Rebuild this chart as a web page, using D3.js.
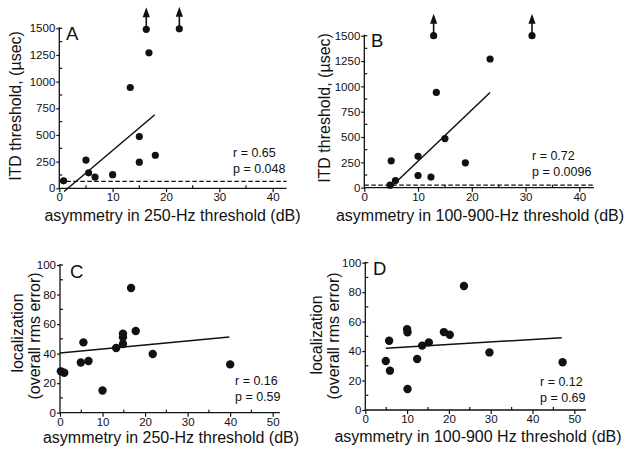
<!DOCTYPE html>
<html><head><meta charset="utf-8">
<script src="https://cdn.jsdelivr.net/npm/d3@7"></script>
<style>body{margin:0;background:#fff}svg{display:block}text{font-family:"Liberation Sans",Arial,sans-serif;fill:#111}</style>
</head><body>
<script>
// ---- data ----
const aX = [0.8, 5, 5.5, 6.7, 10, 13.3, 15, 15, 18, 16.8, 16.3, 22.5];
const aY = [70, 265, 145, 105, 128, 945, 485, 245, 310, 1270, 1490, 1495];
const aUp = [0, 0, 0, 0, 0, 0, 0, 0, 0, 0, 1, 1];
const aFitX = [0.9, 17.9], aFitY = [-30, 690];
const aDash = 65;
const aStats = ["r = 0.65", "p = 0.048"];

const bX = [5, 4.8, 5.8, 10, 10, 12.4, 13.4, 15, 18.8, 23.4, 12.9, 31.2];
const bY = [265, 25, 70, 310, 120, 105, 940, 485, 245, 1270, 1500, 1500];
const bUp = [0, 0, 0, 0, 0, 0, 0, 0, 0, 0, 1, 1];
const bFitX = [5.2, 23.4], bFitY = [20, 940];
const bDash = 25;
const bStats = ["r = 0.72", "p = 0.0096"];

const cX = [0.2, 1.0, 4.9, 5.5, 6.7, 10, 13.2, 14.8, 14.8, 14.8, 16.7, 17.8, 21.8, 40];
const cY = [28, 27, 34, 47.6, 35, 15, 43.8, 46.5, 51, 53.5, 84.4, 55.3, 39.7, 32.7];
const cFitX = [0, 39.8], cFitY = [40.5, 51.3];
const cStats = ["r = 0.16", "p = 0.59"];

const dX = [4.9, 5.7, 5.9, 10.1, 10, 10.1, 12.4, 13.6, 15.2, 18.8, 20.2, 23.6, 29.7, 47.2];
const dY = [33.3, 47, 26.7, 14.3, 54.8, 52.7, 34.6, 43.7, 45.9, 52.9, 51.1, 84.2, 39.1, 32.4];
const dFitX = [4.9, 47], dFitY = [42, 49];
const dStats = ["r = 0.12", "p = 0.69"];

const itdTicks = [0, 250, 500, 750, 1000, 1250, 1500];
const locTicks = [0, 20, 40, 60, 80, 100];
const x40Ticks = [0, 10, 20, 30, 40];
const x50Ticks = [0, 10, 20, 30, 40, 50];

const svg = d3.select("body").append("svg").attr("width", 632).attr("height", 454);

function panel(p) {
  const g = svg.append("g");
  const x = d3.scaleLinear().domain([0, p.xTicks[p.xTicks.length - 1]]).range(p.xr);
  const y = d3.scaleLinear().domain([0, p.yTicks[p.yTicks.length - 1]]).range(p.yr);
  const xEnd = x(p.xMax);
  const xa = d3.axisBottom(x).tickValues(p.xTicks).tickSize(4).tickPadding(1).tickFormat(d3.format("d"));
  const ya = d3.axisLeft(y).tickValues(p.yTicks).tickSize(3).tickPadding(1).tickFormat(d3.format("d"));
  const gx = g.append("g").attr("transform", `translate(0,${p.yr[0]})`).call(xa);
  const gy = g.append("g").attr("transform", `translate(${p.xr[0]},0)`).call(ya);
  gx.select(".domain").remove(); gy.select(".domain").remove();
  [gx, gy].forEach(a => {
    a.selectAll("line").attr("stroke", "#111").attr("stroke-width", 1.2);
    a.selectAll("text").style("font-size", "11.5px").style("font-family", '"Liberation Sans",Arial,sans-serif').attr("fill", "#111");
  });
  g.append("line").attr("x1", p.xr[0]).attr("x2", xEnd).attr("y1", p.yr[0]).attr("y2", p.yr[0]).attr("stroke", "#111").attr("stroke-width", 1.3);
  g.append("line").attr("x1", p.xr[0]).attr("x2", p.xr[0]).attr("y1", p.yr[0]).attr("y2", p.yr[1] - 1).attr("stroke", "#111").attr("stroke-width", 1.3);
  const xStep = p.xTicks[1] - p.xTicks[0], yStep = p.yTicks[1] - p.yTicks[0];
  const xMinor = d3.range(xStep / 2, p.xMax, xStep);
  const yMinor = d3.range(yStep / 2, p.yTicks[p.yTicks.length - 1], yStep).concat([p.yTicks[p.yTicks.length - 1]]);
  g.selectAll(null).data(xMinor).join("line").attr("x1", d => x(d)).attr("x2", d => x(d)).attr("y1", p.yr[0]).attr("y2", p.yr[0] - 3).attr("stroke", "#111").attr("stroke-width", 1.2);
  g.selectAll(null).data(yMinor).join("line").attr("y1", d => y(d)).attr("y2", d => y(d)).attr("x1", p.xr[0]).attr("x2", p.xr[0] + 3).attr("stroke", "#111").attr("stroke-width", 1.2);
  if (p.dash != null) {
    g.append("line").attr("x1", p.xr[0]).attr("x2", xEnd).attr("y1", y(p.dash)).attr("y2", y(p.dash))
      .attr("stroke", "#111").attr("stroke-width", 1.4).attr("stroke-dasharray", "4.5,2.5");
  }
  g.append("line").attr("x1", x(p.fx[0])).attr("x2", x(p.fx[1])).attr("y1", y(p.fy[0])).attr("y2", y(p.fy[1]))
    .attr("stroke", "#111").attr("stroke-width", 1.5);
  const pts = p.xs.map((v, i) => ({ x: v, y: p.ys[i], up: p.up ? p.up[i] : 0 }));
  g.selectAll(null).data(pts).join("circle").attr("cx", d => x(d.x)).attr("cy", d => y(d.y)).attr("r", p.r).attr("fill", "#111");
  const ups = pts.filter(d => d.up);
  g.selectAll(null).data(ups).join("line").attr("x1", d => x(d.x)).attr("x2", d => x(d.x)).attr("y1", d => y(d.y)).attr("y2", d => y(d.y) - 13).attr("stroke", "#111").attr("stroke-width", 1.6);
  g.selectAll(null).data(ups).join("path").attr("d", d => { const cx = x(d.x), cy = y(d.y); return `M${cx},${cy - 22}L${cx + 3.6},${cy - 12}L${cx - 3.6},${cy - 12}Z`; }).attr("fill", "#111");
  g.append("text").attr("x", p.letterPos[0]).attr("y", p.letterPos[1]).text(p.letter).style("font-size", "18.5px");
  g.selectAll(null).data(p.stats).join("text").attr("x", p.statPos[0]).attr("y", (d, i) => p.statPos[1] + i * 15.5).text(d => d).style("font-size", "12.5px");
  g.append("text").attr("x", p.xlPos[0]).attr("y", p.xlPos[1]).attr("text-anchor", "middle").text(p.xlabel).style("font-size", "16px");
  p.ylabel.forEach((t, i) => {
    g.append("text").attr("transform", `translate(${p.ylPos[i][0]},${p.ylPos[i][1]}) rotate(-90)`).attr("text-anchor", "middle").text(t).style("font-size", "16px");
  });
}

panel({ xs: aX, ys: aY, up: aUp, fx: aFitX, fy: aFitY, dash: aDash, stats: aStats, letter: "A",
  xTicks: x40Ticks, yTicks: itdTicks, xMax: 42.6, xr: [59.3, 272.7], yr: [188.3, 28.3], r: 3.6,
  letterPos: [66, 40], statPos: [233, 157], xlPos: [172.5, 221], xlabel: "asymmetry in 250-Hz threshold (dB)",
  ylabel: ["ITD threshold, (µsec)"], ylPos: [[21, 106]] });
panel({ xs: bX, ys: bY, up: bUp, fx: bFitX, fy: bFitY, dash: bDash, stats: bStats, letter: "B",
  xTicks: x40Ticks, yTicks: itdTicks, xMax: 42.7, xr: [364.3, 579.3], yr: [187.7, 35.7], r: 3.6,
  letterPos: [371, 47], statPos: [532, 160], xlPos: [480, 221], xlabel: "asymmetry in 100-900-Hz threshold (dB)",
  ylabel: ["ITD threshold, (µsec)"], ylPos: [[330, 108]] });
panel({ xs: cX, ys: cY, fx: cFitX, fy: cFitY, dash: null, stats: cStats, letter: "C",
  xTicks: x50Ticks, yTicks: locTicks, xMax: 51.7, xr: [60, 272.7], yr: [412.7, 265], r: 4.2,
  letterPos: [70, 278], statPos: [235, 385], xlPos: [171, 443], xlabel: "asymmetry in 250-Hz threshold (dB)",
  ylabel: ["localization", "(overall rms error)"], ylPos: [[23, 333], [39.5, 336]] });
panel({ xs: dX, ys: dY, fx: dFitX, fy: dFitY, dash: null, stats: dStats, letter: "D",
  xTicks: x50Ticks, yTicks: locTicks, xMax: 52.8, xr: [365.3, 574.3], yr: [410, 262.7], r: 4.2,
  letterPos: [373, 275], statPos: [540, 386], xlPos: [478, 442], xlabel: "asymmetry in 100-900 Hz threshold (dB)",
  ylabel: ["localization", "(overall rms error)"], ylPos: [[322, 335], [338.5, 336]] });
</script>
</body></html>
